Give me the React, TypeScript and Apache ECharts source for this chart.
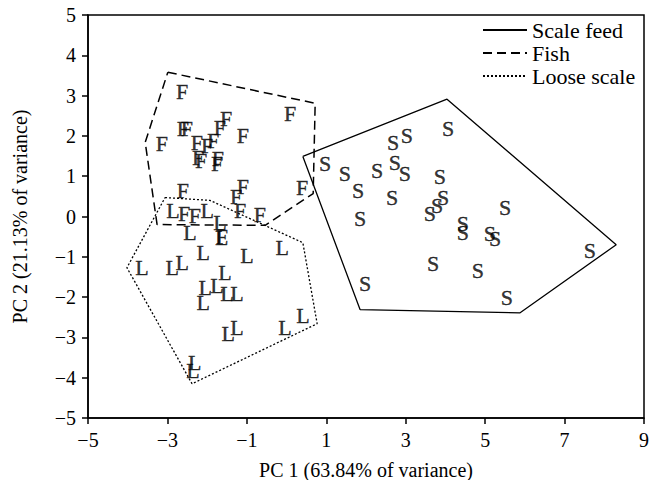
import React, { useEffect, useRef } from "react";
import * as echarts from "echarts";

const FONT = "'Liberation Serif', 'Times New Roman', serif";

const fishPoints: number[][] = [
  [-2.63, 3.11], [0.09, 2.56], [-2.61, 2.19], [-2.51, 2.19], [-1.52, 2.44],
  [-1.68, 2.21], [-1.1, 2.01], [-3.14, 1.82], [-2.26, 1.84], [-2.0, 1.77],
  [-1.85, 1.89], [-2.23, 1.47], [-2.15, 1.39], [-1.73, 1.44], [-1.75, 1.32],
  [-2.61, 0.65], [-1.1, 0.75], [-1.27, 0.5], [0.39, 0.72], [-1.17, 0.15],
  [-0.67, 0.05], [-2.58, 0.07], [-2.31, 0.02], [-1.63, -0.5],
];

const looseScalePoints: number[][] = [
  [-2.86, 0.15], [-2.0, 0.15], [-2.43, -0.4], [-1.68, -0.15], [-1.63, -0.52],
  [-0.11, -0.77], [-2.1, -0.9], [-1.0, -0.97], [-2.63, -1.14], [-2.88, -1.27],
  [-3.64, -1.27], [-1.55, -1.39], [-2.05, -1.77], [-2.1, -2.14], [-1.75, -1.72],
  [-1.5, -1.92], [-1.25, -1.92], [-1.47, -2.91], [-1.25, -2.76], [-0.04, -2.76],
  [0.41, -2.46], [-2.31, -3.63], [-2.36, -3.83],
];

const scaleFeedPoints: number[][] = [
  [0.97, 1.32], [1.47, 1.07], [1.8, 0.65], [1.85, -0.05], [2.28, 1.14],
  [2.68, 1.84], [3.03, 2.01], [2.73, 1.34], [2.98, 1.07], [2.66, 0.47],
  [4.07, 2.19], [3.86, 1.0], [3.94, 0.47], [3.79, 0.27], [3.61, 0.07],
  [4.44, -0.17], [4.44, -0.4], [5.12, -0.42], [5.25, -0.55], [5.5, 0.22],
  [1.98, -1.67], [3.69, -1.17], [4.82, -1.34], [5.55, -2.01], [7.64, -0.85],
];

const scaleFeedHull: number[][] = [
  [0.41, 1.49], [4.04, 2.91], [8.3, -0.7], [5.88, -2.39], [1.85, -2.31], [0.41, 1.49],
];
const fishHull: number[][] = [
  [-2.99, 3.58], [0.72, 2.81], [0.67, 0.57], [-0.54, -0.22], [-3.26, -0.2], [-3.56, 1.84], [-2.99, 3.58],
];
const looseScaleHull: number[][] = [
  [-3.06, 0.47], [-1.93, 0.4], [0.41, -0.65], [0.77, -2.66], [-2.38, -4.15], [-4.02, -1.27], [-3.06, 0.47],
];

const groupNames = ["Scale feed", "Fish", "Loose scale"];
const xTitle = "PC 1 (63.84% of variance)";
const yTitle = "PC 2 (21.13% of variance)";

const minusFmt = (v: number) => String(v).replace("-", "\u2212");

function letterSeries(data: number[][], letter: string) {
  return {
    type: "scatter",
    data,
    symbol: "circle",
    symbolSize: 1,
    itemStyle: { color: "rgba(0,0,0,0)" },
    silent: true,
    z: 3,
    label: {
      show: true,
      position: "inside",
      formatter: letter,
      color: "#000",
      fontFamily: FONT,
      fontSize: 22,
      textBorderColor: "#000",
      textBorderWidth: 0.4,
    },
  };
}

function hullSeries(name: string, data: number[][], type: any, width: number) {
  return {
    name,
    type: "line",
    data,
    symbol: "none",
    silent: true,
    z: 2,
    lineStyle: { color: "#000", width, type },
    itemStyle: { color: "#000" },
  };
}

export default function App() {
  const ref = useRef<HTMLDivElement>(null);
  useEffect(() => {
    if (!ref.current) return;
    const chart = echarts.init(ref.current, null, { renderer: "svg" });
    chart.setOption({
      animation: false,
      backgroundColor: "#fff",
      grid: {
        left: 88,
        right: 18,
        top: 15,
        bottom: 70,
        show: true,
        borderColor: "#000",
        borderWidth: 1.5,
        backgroundColor: "transparent",
      },
      legend: {
        data: groupNames,
        orient: "vertical",
        left: 477,
        top: 14,
        itemWidth: 44,
        itemHeight: 14,
        itemGap: 1,
        itemStyle: { opacity: 0 },
        textStyle: { fontFamily: FONT, fontSize: 22, lineHeight: 22, color: "#000" },
        selectedMode: false,
      },
      xAxis: {
        type: "value",
        min: -5,
        max: 9,
        interval: 2,
        name: xTitle,
        nameLocation: "middle",
        nameGap: 42,
        nameTextStyle: { fontFamily: FONT, fontSize: 20, color: "#000" },
        axisLine: { onZero: false, lineStyle: { color: "#000", width: 1.5 } },
        axisTick: { show: true, inside: false, length: 6, lineStyle: { color: "#000", width: 1.5 } },
        axisLabel: { fontFamily: FONT, fontSize: 20, color: "#000", margin: 12, formatter: minusFmt },
        splitLine: { show: false },
      },
      yAxis: {
        type: "value",
        min: -5,
        max: 5,
        interval: 1,
        name: yTitle,
        nameLocation: "middle",
        nameGap: 58,
        nameTextStyle: { fontFamily: FONT, fontSize: 20, color: "#000" },
        axisLine: { onZero: false, lineStyle: { color: "#000", width: 1.5 } },
        axisTick: { show: true, inside: false, length: 6, lineStyle: { color: "#000", width: 1.5 } },
        axisLabel: { fontFamily: FONT, fontSize: 20, color: "#000", margin: 12, formatter: minusFmt },
        splitLine: { show: false },
      },
      series: [
        hullSeries(groupNames[0], scaleFeedHull, "solid", 1.3),
        hullSeries(groupNames[1], fishHull, [9, 5], 1.5),
        hullSeries(groupNames[2], looseScaleHull, [2, 2], 1.3),
        letterSeries(scaleFeedPoints, "S"),
        letterSeries(fishPoints, "F"),
        letterSeries(looseScalePoints, "L"),
      ],
    });
    return () => chart.dispose();
  }, []);
  return <div ref={ref} style={{ width: 662, height: 488, margin: -8 }} />;
}
